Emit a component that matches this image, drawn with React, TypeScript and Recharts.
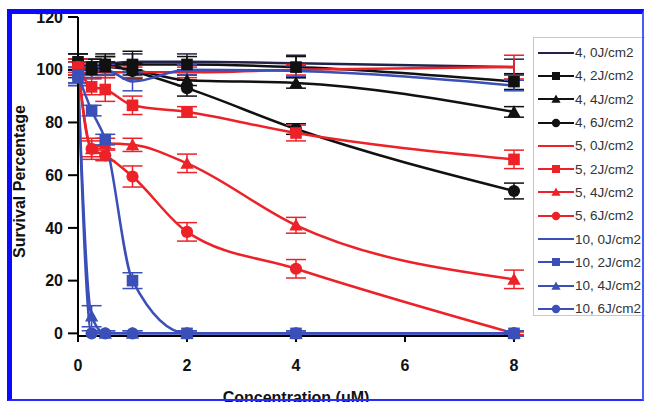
import React from "react"
import { LineChart, Line, XAxis, YAxis, ErrorBar, Legend } from "recharts"

const X_VALUES = [0, 0.25, 0.5, 1, 2, 4, 8]
const X_TICKS = [0, 2, 4, 6, 8]
const Y_TICKS = [0, 20, 40, 60, 80, 100, 120]

const SERIES_NAMES = [
  "4, 0J/cm2", "4, 2J/cm2", "4, 4J/cm2", "4, 6J/cm2",
  "5, 0J/cm2", "5, 2J/cm2", "5, 4J/cm2", "5, 6J/cm2",
  "10, 0J/cm2", "10, 2J/cm2", "10, 4J/cm2", "10, 6J/cm2",
]

// survival % per series, at X_VALUES
const s4_0 = [100, 101, 102, 103, 103, 102.5, 101]
const s4_2 = [103, 101, 102, 102, 102, 101, 95.5]
const s4_4 = [102, 100, 101, 100, 96, 95, 84]
const s4_6 = [103, 100, 102, 99.5, 93, 77.5, 54]
const s5_0 = [101, 100, 99, 99, 99, 100, 101]
const s5_2 = [101, 93.5, 92.5, 86.5, 84, 76, 66]
const s5_4 = [101, 70, 72, 71.5, 64.5, 41, 20.5]
const s5_6 = [101, 70, 67.5, 59.5, 38.5, 24.5, 0]
const s10_0 = [98, 99, 100, 95.5, 100, 99.5, 94]
const s10_2 = [98, 84.5, 73.5, 20, 0, 0, 0]
const s10_4 = [97, 6.5, 0, 0, 0, 0, 0]
const s10_6 = [97, 0, 0, 0, 0, 0, 0]

// error bar half-lengths
const e4_0 = [3, 3, 3, 3, 3, 3, 3]
const e4_2 = [3, 3, 4, 5, 3, 4, 3]
const e4_4 = [2, 2, 2, 2, 2, 2, 2]
const e4_6 = [3, 3, 3, 3, 3, 2, 3]
const e5_0 = [2, 2, 2, 2, 2, 2, 4.5]
const e5_2 = [3, 3, 4.5, 3.5, 2, 3, 3.5]
const e5_4 = [3, 3, 2, 2.5, 3.5, 3, 3.5]
const e5_6 = [3, 4, 2, 4, 3.5, 3.5, 0.5]
const e10_0 = [3, 2, 2, 3.5, 2, 2, 2]
const e10_2 = [3, 2, 2, 3, 1, 1, 1]
const e10_4 = [3, 4, 1, 1, 1, 1, 1]
const e10_6 = [3, 1, 1, 1, 1, 1, 1]

const VALUES = [s4_0, s4_2, s4_4, s4_6, s5_0, s5_2, s5_4, s5_6, s10_0, s10_2, s10_4, s10_6]
const ERRORS = [e4_0, e4_2, e4_4, e4_6, e5_0, e5_2, e5_4, e5_6, e10_0, e10_2, e10_4, e10_6]

const BLACK = "#111111"
const RED = "#ec2228"
const BLUE = "#3a4fb8"
const COLORS = [
  "#22224a", BLACK, BLACK, BLACK,
  RED, RED, RED, RED,
  BLUE, BLUE, BLUE, BLUE,
]
const SHAPES = ["none", "square", "triangle", "circle", "none", "square", "triangle", "circle", "none", "square", "triangle", "circle"]

const data = X_VALUES.map((x, i) => {
  const row: Record<string, number> = { x }
  VALUES.forEach((v, s) => {
    row["s" + s] = v[i]
    row["e" + s] = ERRORS[s][i]
  })
  return row
})

const FONT = "'Liberation Sans', Arial, sans-serif"

function Marker({ shape, cx, cy, color, size }: { shape: string; cx: number; cy: number; color: string; size: number }) {
  if (shape === "square") {
    return <rect x={cx - size} y={cy - size} width={size * 2} height={size * 2} fill={color} />
  }
  if (shape === "triangle") {
    const s = size * 1.15
    return <polygon points={`${cx},${cy - s} ${cx + s},${cy + s * 0.8} ${cx - s},${cy + s * 0.8}`} fill={color} />
  }
  if (shape === "circle") {
    return <circle cx={cx} cy={cy} r={size * 1.05} fill={color} />
  }
  return null
}

function makeDot(s: number) {
  return (props: any) => {
    const { cx, cy, index } = props
    if (SHAPES[s] === "none" || cx == null || cy == null) return <g key={`d${s}-${index}`} />
    return (
      <g key={`d${s}-${index}`}>
        <Marker shape={SHAPES[s]} cx={cx} cy={cy} color={COLORS[s]} size={5.8} />
      </g>
    )
  }
}

function YLabel(props: any) {
  const vb = props.viewBox || { y: 17, height: 319 }
  const cx = 19
  const cy = vb.y + vb.height / 2 + 5
  return (
    <text
      x={cx}
      y={cy}
      transform={`rotate(-90, ${cx}, ${cy})`}
      textAnchor="middle"
      dominantBaseline="central"
      fontFamily={FONT}
      fontSize={16}
      fontWeight="bold"
      fill="#111"
    >
      Survival Percentage
    </text>
  )
}

function renderLegend() {
  return (
    <div
      style={{
        border: "1px solid #c8c8c8",
        width: 125,
        height: 279,
        boxSizing: "border-box",
        paddingTop: 3,
        background: "#fff",
      }}
    >
      {SERIES_NAMES.map((name, s) => (
        <div key={name} style={{ height: 23.3, display: "flex", alignItems: "center" }}>
          <svg width={42} height={14} style={{ marginLeft: 4 }}>
            <line x1={0} y1={7} x2={36} y2={7} stroke={COLORS[s]} strokeWidth={2} />
            <Marker shape={SHAPES[s]} cx={18} cy={7} color={COLORS[s]} size={4} />
          </svg>
          <span style={{ fontFamily: FONT, fontSize: 13.5, color: "#333", marginLeft: -5, whiteSpace: "nowrap" }}>{name}</span>
        </div>
      ))}
    </div>
  )
}

export default function App() {
  return (
    <div style={{ position: "absolute", left: 0, top: 0, width: 645, height: 402, overflow: "hidden", background: "#fff" }}>
      <LineChart width={645} height={402} data={data} margin={{ top: 17, right: 131, bottom: 2, left: 0 }}>
        <XAxis
          dataKey="x"
          type="number"
          domain={[0, 8]}
          ticks={X_TICKS}
          height={64}
          tickSize={6}
          tickMargin={18}
          axisLine={{ stroke: "#000", strokeWidth: 2 }}
          tickLine={{ stroke: "#000", strokeWidth: 2 }}
          tick={{ fontFamily: FONT, fontSize: 16, fontWeight: "bold", fill: "#111" }}
          label={{ value: "Concentration (uM)", position: "insideBottom", offset: -3, fontFamily: FONT, fontSize: 16, fontWeight: "bold", fill: "#111" }}
        />
        <YAxis
          type="number"
          domain={[0, 120]}
          ticks={Y_TICKS}
          width={78}
          tickSize={10}
          tickMargin={5}
          axisLine={{ stroke: "#000", strokeWidth: 2 }}
          tickLine={{ stroke: "#000", strokeWidth: 2 }}
          tick={{ fontFamily: FONT, fontSize: 16, fontWeight: "bold", fill: "#111" }}
          label={<YLabel />}
        />
        <Legend
          layout="vertical"
          align="center"
          verticalAlign="middle"
          content={renderLegend}
          wrapperStyle={{ position: "absolute", left: 533, top: 37, width: 125 }}
        />
        {SERIES_NAMES.map((name, s) => (
          <Line
            key={name}
            name={name}
            dataKey={"s" + s}
            type="monotone"
            stroke={COLORS[s]}
            strokeWidth={2.5}
            dot={makeDot(s)}
            activeDot={false}
            isAnimationActive={false}
          >
            <ErrorBar dataKey={"e" + s} direction="y" width={10} stroke={COLORS[s]} strokeWidth={1.5} />
          </Line>
        ))}
      </LineChart>
      <div
        style={{
          position: "absolute",
          left: 7,
          top: 9,
          width: 637,
          height: 392,
          boxSizing: "border-box",
          borderTop: "5px solid #0a0aff",
          borderLeft: "5px solid #0a0aff",
          borderRight: "2px solid #4a5aff",
          borderBottom: "2px solid #2a2aff",
          pointerEvents: "none",
        }}
      />
    </div>
  )
}
